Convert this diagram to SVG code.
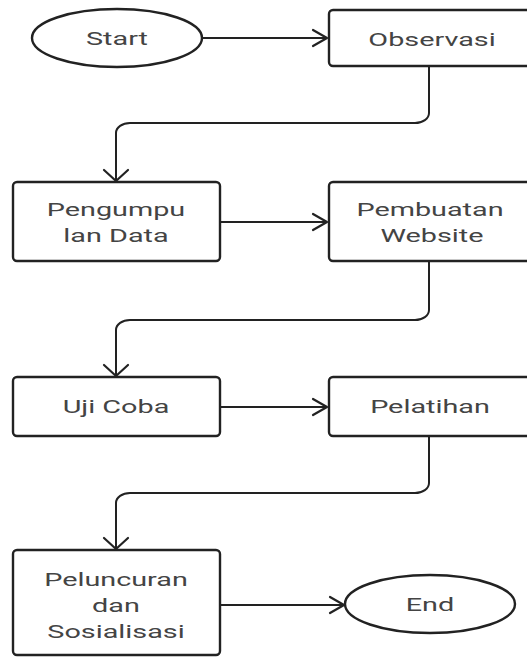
<svg xmlns="http://www.w3.org/2000/svg" width="527" height="659" viewBox="0 0 527 659">
<style>
.shape{fill:#fff;stroke:#222;stroke-width:2.4}
.conn{fill:none;stroke:#222;stroke-width:2;stroke-linejoin:miter}
.head{fill:none;stroke:#222;stroke-width:2.2;stroke-linecap:round;stroke-linejoin:round}
.lbl{font-family:Roboto,"Liberation Sans",sans-serif;font-size:18px;fill:#444;text-anchor:middle}
</style>
<rect width="527" height="659" fill="#fff"/>
<g id="connectors">
<path class="conn" d="M202,38 H326"/>
<path class="head" d="M313,30 L327,38 L313,46"/>
<path class="conn" d="M429,66 V113 A14 10 0 0 1 415,123 H130 A14 10 0 0 0 116,133 V181"/>
<path class="head" d="M104,170 L116,181 L128,170"/>
<path class="conn" d="M220,222 H327"/>
<path class="head" d="M313,214 L327,222 L313,230"/>
<path class="conn" d="M429,261 V310 A14 10 0 0 1 415,320 H130 A14 10 0 0 0 116,330 V376"/>
<path class="head" d="M104,365 L116,376 L128,365"/>
<path class="conn" d="M220,407 H327"/>
<path class="head" d="M313,399 L327,407 L313,415"/>
<path class="conn" d="M429,436 V483 A14 10 0 0 1 415,493 H130 A14 10 0 0 0 116,503 V549"/>
<path class="head" d="M104,538 L116,549 L128,538"/>
<path class="conn" d="M220,605 H343"/>
<path class="head" d="M330,597 L344,605 L330,613"/>
</g>
<g id="start">
<ellipse class="shape" cx="117" cy="38" rx="85" ry="29"/>
<text class="lbl" transform="translate(117,45) scale(1.6,1)">Start</text>
</g>
<g id="observasi">
<rect class="shape" x="329" y="10" width="206" height="56" rx="4"/>
<text class="lbl" transform="translate(432,46) scale(1.6,1)">Observasi</text>
</g>
<g id="pengumpulan">
<rect class="shape" x="13" y="182" width="207" height="79" rx="4"/>
<text class="lbl" transform="translate(116,216) scale(1.6,1)">Pengumpu</text>
<text class="lbl" transform="translate(116,242) scale(1.6,1)">lan Data</text>
</g>
<g id="pembuatan">
<rect class="shape" x="329" y="182" width="206" height="79" rx="4"/>
<text class="lbl" transform="translate(430,216) scale(1.6,1)">Pembuatan</text>
<text class="lbl" transform="translate(432,242) scale(1.6,1)">Website</text>
</g>
<g id="ujicoba">
<rect class="shape" x="13" y="377" width="207" height="59" rx="4"/>
<text class="lbl" transform="translate(116,413) scale(1.6,1)">Uji Coba</text>
</g>
<g id="pelatihan">
<rect class="shape" x="329" y="377" width="206" height="59" rx="4"/>
<text class="lbl" transform="translate(430,413) scale(1.6,1)">Pelatihan</text>
</g>
<g id="peluncuran">
<rect class="shape" x="13" y="550" width="207" height="105" rx="4"/>
<text class="lbl" transform="translate(116,586) scale(1.6,1)">Peluncuran</text>
<text class="lbl" transform="translate(116,612) scale(1.6,1)">dan</text>
<text class="lbl" transform="translate(116,638) scale(1.6,1)">Sosialisasi</text>
</g>
<g id="end">
<ellipse class="shape" cx="430" cy="604" rx="85" ry="29"/>
<text class="lbl" transform="translate(430,611) scale(1.6,1)">End</text>
</g>
</svg>
